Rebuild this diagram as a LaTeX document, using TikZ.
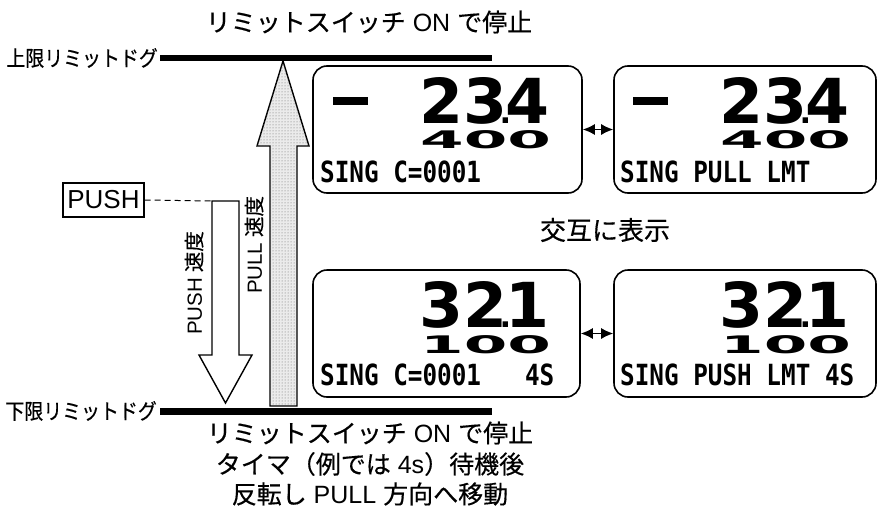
\documentclass[tikz,border=0pt]{standalone}
\usepackage{fontspec}
\setmainfont{Liberation Sans}
\newfontfamily\jp[FakeBold=0.4]{Noto Sans CJK JP}
\newfontfamily\lcd{DejaVu Sans Mono}
\newfontfamily\seg{DejaVu Sans}
\usetikzlibrary{arrows.meta,patterns}
\newcommand\myfs[1]{\fontsize{#1}{#1}\selectfont}
\newcommand\lcdtxt[1]{\scalebox{0.9}[1.08]{\lcd\bfseries\myfs{27pt}#1}}
\newcommand\bigdig[2]{\scalebox{1.02}[1]{\seg\bfseries\myfs{62pt}#1\kern-7.5pt{\myfs{30pt}.}\kern-6pt #2}}
\newcommand\middig[1]{\scalebox{2.85}[1.1]{\seg\bfseries\myfs{22pt}#1}}
\newcommand\narrowjp[1]{\scalebox{0.88}[1]{\jp #1}}
\tikzset{
  bar/.style={line width=6.5pt},
  disp/.style={draw, line width=1.6pt, rounded corners=14pt, inner sep=0},
  arrowshape/.style={draw, line width=1.4pt, line join=miter},
  pullfill/.style={fill=black!8, postaction={pattern=dots, pattern color=black!60}},
  dbl/.style={line width=1.4pt, {Latex[length=12pt,width=11pt]}-{Latex[length=12pt,width=11pt]}},
  txt/.style={inner sep=0},
  dig/.style={anchor=base west, inner sep=0},
}
\begin{document}
\begin{tikzpicture}[x=1pt,y=-1pt]
\useasboundingbox (0,0) rectangle (878,530);

% limit dog labels and bars
\node[txt, anchor=east, font=\myfs{21.5pt}] (uplbl) at (158,58) {\narrowjp{上限リミットドグ}};
\node[txt, anchor=east, font=\myfs{21.5pt}] (lowlbl) at (157,411) {\narrowjp{下限リミットドグ}};
\coordinate (ubarL) at (160,58);
\coordinate (ubarR) at (492,58);
\coordinate (lbarL) at (160,411.5);
\coordinate (lbarR) at (492,411.5);
\draw[bar] (ubarL) -- (ubarR);
\draw[bar] (lbarL) -- (lbarR);

% texts above and below
\node[txt, font=\myfs{25pt}] (toptxt) at (369,22) {{\jp リミットスイッチ} ON {\jp で停止}};
\node[txt, font=\myfs{25pt}] (bot1) at (370,433) {{\jp リミットスイッチ} ON {\jp で停止}};
\node[txt, font=\myfs{25pt}] (bot2) at (370,464) {{\jp タイマ（例では} 4s{\jp ）待機後}};
\node[txt, font=\myfs{25pt}] (bot3) at (370,494) {{\jp 反転し} PULL {\jp 方向へ移動}};

% PULL arrow
\path[arrowshape, pullfill] (270,406) -- (270,146) -- (257,146) -- (283,61) -- (309,146) -- (297,146) -- (297,406) -- cycle;
% PUSH arrow
\path[arrowshape, fill=white] (212,201) -- (212,355) -- (199,355) -- (225.5,403) -- (252,355) -- (239,355) -- (239,201) -- cycle;
\coordinate (pushtop) at (212,201);

\node[txt, rotate=90, font=\myfs{20.5pt}] (pushv) at (194,283) {PUSH {\jp 速度}};
\node[txt, rotate=90, font=\myfs{20.5pt}] (pullv) at (254,245) {PULL {\jp 速度}};

% PUSH button
\node[draw, line width=1.3pt, inner sep=0, minimum width=81pt, minimum height=34pt, font=\myfs{26pt}] (push) at (103.5,200) {PUSH};
\draw[line width=1pt, dash pattern=on 6pt off 4pt] (push.east) -- (pushtop);

% displays
\node[disp, minimum width=269pt, minimum height=127pt] (d1) at (447.5,129.5) {};
\node[disp, minimum width=262pt, minimum height=127pt] (d2) at (745,129.5) {};
\node[disp, minimum width=267pt, minimum height=127pt] (d3) at (446.5,333.5) {};
\node[disp, minimum width=262pt, minimum height=127pt] (d4) at (745,333.5) {};
\draw[dbl] (d1.east) -- (d2.west);
\draw[dbl] (d3.east) -- (d4.west);
\node[txt, font=\myfs{26pt}] (alt) at (605,230) {\jp 交互に表示};

% display 1
\fill (333,97) rectangle (368,105);
\node[dig] (b1) at (419,123) {\bigdig{23}{4}};
\node[dig] (m1) at (420,148) {\middig{400}};
\node[dig] (s1) at (320,182) {\lcdtxt{SING C=0001}};
% display 2
\fill (633,97) rectangle (668,105);
\node[dig] (b2) at (719,123) {\bigdig{23}{4}};
\node[dig] (m2) at (720,148) {\middig{400}};
\node[dig] (s2) at (620,182) {\lcdtxt{SING PULL LMT}};
% display 3
\node[dig] (b3) at (419,327) {\bigdig{32}{1}};
\node[dig] (m3) at (420,353) {\middig{100}};
\node[dig] (s3) at (320,385) {\lcdtxt{SING C=0001\ \ \ 4S}};
% display 4
\node[dig] (b4) at (719,327) {\bigdig{32}{1}};
\node[dig] (m4) at (720,353) {\middig{100}};
\node[dig] (s4) at (620,385) {\lcdtxt{SING PUSH LMT 4S}};
\end{tikzpicture}
\end{document}
